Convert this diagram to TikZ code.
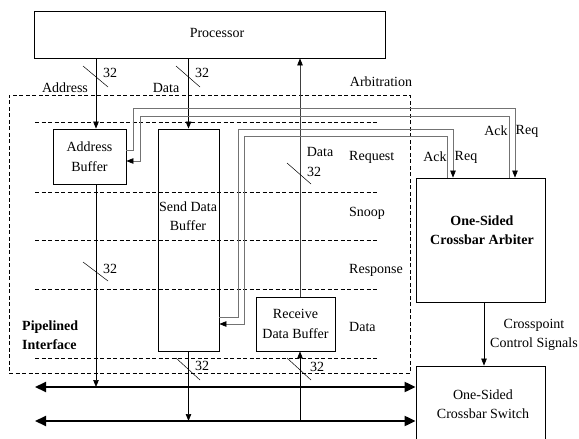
\documentclass[tikz,border=0pt]{standalone}
\usepackage{fontspec}
\setmainfont{Liberation Serif}
\usetikzlibrary{arrows.meta,calc}
\newcommand{\fsz}{\fontsize{14}{19.5}\selectfont}
\begin{document}
\begin{tikzpicture}[x=1pt,y=-1pt,
  every node/.style={font=\fsz, inner sep=0pt},
  box/.style={draw, line width=0.8pt, inner sep=0pt},
  bold/.style={font=\fsz\bfseries},
  arr/.style={-{Triangle[length=7pt,width=5.5pt,color=black]}, line width=0.7pt},
  wire/.style={draw=black!55, line width=0.8pt},
  busline/.style={{Triangle[length=11pt,width=10pt]}-{Triangle[length=11pt,width=10pt]}, line width=2pt},
  stage/.style={dash pattern=on 4pt off 2.5pt, line width=0.7pt},
  slash/.style={line width=0.5pt}
]
\useasboundingbox (0,0) rectangle (579,439);

% pipelined interface region and stage separators
\node[draw, stage, minimum width=401pt, minimum height=278pt] (pipe) at (209.5,234) {};
\foreach \y in {122,192,240,289,358} \draw[stage] (35,\y) -- (377,\y);

% boxes
\node[box, minimum width=351pt, minimum height=47pt] (proc) at (209.5,34.5) {};
\node (proct) at (217,33) {Processor};
\node[box, minimum width=73pt, minimum height=55pt, align=center] (ab) at (89.5,156.5) {Address\\Buffer};
\node[box, minimum width=61pt, minimum height=222pt] (sdb) at (188.5,240) {};
\node[align=center] (sdbt) at (188,216) {Send Data\\Buffer};
\node[box, minimum width=79pt, minimum height=54pt, align=center] (rdb) at (295.5,324) {Receive\\Data Buffer};
\node[box, minimum width=129pt, minimum height=124pt] (arb) at (480.5,240) {};
\node[bold, align=center] (arbt) at (482,230) {One-Sided\\Crossbar Arbiter};
\begin{scope}
  \clip (0,0) rectangle (579,439);
  \node[box, minimum width=129pt, minimum height=76pt] (sw) at (480.5,404) {};
\end{scope}
\node[align=center] (swt) at (483,404) {One-Sided\\Crossbar Switch};

% labels
\node (arbit) at (381,82) {Arbitration};
\node[anchor=west] (sreq) at (349,157) {Request};
\node[anchor=west] (ssnoop) at (349,213) {Snoop};
\node[anchor=west] (sresp) at (349,270) {Response};
\node[anchor=west] (sdata) at (349,327) {Data};
\node[bold, align=left, anchor=west] (pipet) at (22,335) {Pipelined\\Interface};
\node (addrl) at (65,88) {Address};
\node (datal) at (166,88) {Data};
\node (datau) at (320,152) {Data};
\node[align=center] (cps) at (534,335) {Crosspoint\\Control Signals};
\node (ack1) at (496,131) {Ack};
\node (req1) at (527,131) {Req};
\node (ack2) at (435,157) {Ack};
\node (req2) at (466,157) {Req};

% coordinates
\coordinate (xa) at (96,0);
\coordinate (xr) at (300,0);
\coordinate (xc) at (484,0);
\coordinate (b1) at (35,387);
\coordinate (b2) at (35,421);

% buses
\draw[busline] (b1) -- (b1 -| sw.west);
\draw[busline] (b2) -- (b2 -| sw.west);

% data paths
\draw[arr] (proc.south -| xa) -- (ab.north -| xa);
\draw[arr] (sdb.north |- proc.south) -- (sdb.north);
\draw[arr] (ab.south -| xa) -- (b1 -| xa);
\draw[arr] (sdb.south) -- (sdb.south |- b2);
\draw[arr] (b2 -| xr) -- (rdb.south -| xr);
\draw[arr, draw=black!75] (rdb.north -| xr) -- (proc.south -| xr);
\draw[arr] (arb.south -| xc) -- (sw.north -| xc);

% request / acknowledge wires
\draw[wire, arr] ([yshift=6.5pt]ab.east) -| (133,108) -| ([xshift=34.5pt]arb.north);
\draw[wire, arr] ([xshift=28.5pt]arb.north) |- (140,116) |- ([yshift=-4.5pt]ab.east);
\draw[wire, arr] ([yshift=-77pt]sdb.east) -| (238,129) -| ([xshift=-27.5pt]arb.north);
\draw[wire, arr] ([xshift=-33.5pt]arb.north) |- (244,136) |- ([yshift=-84pt]sdb.east);

% bus width slashes
\draw[slash] (83,66) -- (108,87);   \node (w1) at (110,73) {32};
\draw[slash] (176,66) -- (200,87);  \node (w2) at (202,73) {32};
\draw[slash] (83,262) -- (108,281); \node (w3) at (110,269) {32};
\draw[slash] (176,358) -- (200,380); \node (w4) at (202,366) {32};
\draw[slash] (287,358) -- (311,380); \node (w5) at (317,367) {32};
\draw[slash] (287,163) -- (311,184); \node (w6) at (314,172) {32};
\end{tikzpicture}
\end{document}
